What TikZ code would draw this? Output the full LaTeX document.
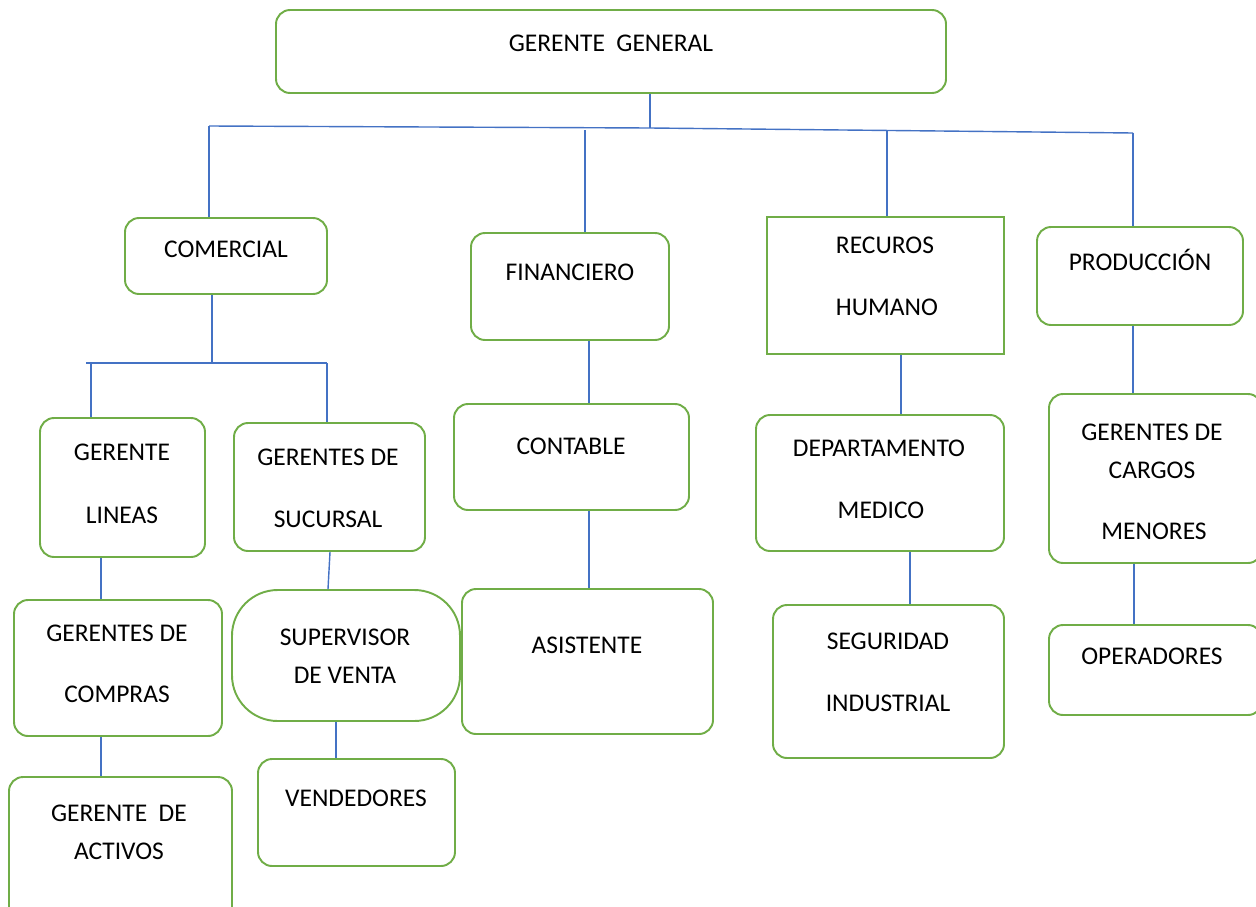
\documentclass[tikz,border=0pt]{standalone}
\usepackage{fontspec}
\setmainfont{Carlito}
\usetikzlibrary{fit}
\definecolor{cajaverde}{RGB}{112,173,71}
\definecolor{lineaazul}{RGB}{68,114,196}

\begin{document}
\begin{tikzpicture}[
    x=0.02cm, y=-0.02cm,
    caja/.style={rectangle, draw=cajaverde, line width=1.1pt, rounded corners=8pt, inner sep=0pt},
    cajarecta/.style={rectangle, draw=cajaverde, line width=1.1pt, inner sep=0pt},
    txt/.style={inner sep=0pt, font=\fontsize{14.5}{17}\selectfont, text=black},
    enlace/.style={draw=lineaazul, line width=0.8pt}
   ]
   \useasboundingbox (0,0) rectangle (1256,906);

   % cajas
   \node[caja, fit={(276,10) (946,93)}] (general) {};
   \node[caja, fit={(125,218) (327,294)}] (comercial) {};
   \node[caja, fit={(471,233) (669,340)}] (financiero) {};
   \node[cajarecta, fit={(767,217) (1004,354)}] (rrhh) {};
   \node[caja, fit={(1037,227) (1243,325)}] (produccion) {};
   \node[caja, fit={(40,418) (205,557)}] (lineas) {};
   \node[caja, fit={(234,423) (425,551)}] (sucursal) {};
   \node[caja, fit={(14,600) (222,736)}] (compras) {};
   \node[caja, fit={(9,777) (232,930)}] (activos) {};
   \node[caja, rounded corners=26pt, fit={(232,590) (460,721)}] (supervisor) {};
   \node[caja, fit={(258,759) (455,866)}] (vendedores) {};
   \node[caja, fit={(454,404) (689,510)}] (contable) {};
   \node[caja, fit={(462,589) (713,734)}] (asistente) {};
   \node[caja, fit={(756,415) (1004,551)}] (medico) {};
   \node[caja, fit={(773,605) (1004,758)}] (seguridad) {};
   \node[caja, fit={(1049,394) (1262,563)}] (cargos) {};
   \node[caja, fit={(1049,625) (1262,715)}] (operadores) {};

   % textos
   \node[txt] (generalT) at (611,43) {GERENTE\ \ GENERAL};
   \node[txt] (comercialT) at (226,249) {COMERCIAL};
   \node[txt] (financieroT) at (570,272) {FINANCIERO};
   \node[txt] (rrhhT1) at (885,245) {RECUROS};
   \node[txt] (rrhhT2) at (887,307) {HUMANO};
   \node[txt] (produccionT) at (1140,260) {PRODUCCIÓN};
   \node[txt] (lineasT1) at (122,452) {GERENTE};
   \node[txt] (lineasT2) at (122,515) {LINEAS};
   \node[txt] (sucursalT1) at (328,457) {GERENTES DE};
   \node[txt] (sucursalT2) at (328,519) {SUCURSAL};
   \node[txt] (comprasT1) at (117,633) {GERENTES DE};
   \node[txt] (comprasT2) at (117,694) {COMPRAS};
   \node[txt] (activosT1) at (119,813) {GERENTE\ \ DE};
   \node[txt] (activosT2) at (119,851) {ACTIVOS};
   \node[txt] (supervisorT1) at (345,637) {SUPERVISOR};
   \node[txt] (supervisorT2) at (345,675) {DE VENTA};
   \node[txt] (vendedoresT) at (356,798) {VENDEDORES};
   \node[txt] (contableT) at (571,446) {CONTABLE};
   \node[txt] (asistenteT) at (587,645) {ASISTENTE};
   \node[txt] (medicoT1) at (879,448) {DEPARTAMENTO};
   \node[txt] (medicoT2) at (881,510) {MEDICO};
   \node[txt] (seguridadT1) at (888,641) {SEGURIDAD};
   \node[txt] (seguridadT2) at (888,703) {INDUSTRIAL};
   \node[txt] (cargosT1) at (1152,432) {GERENTES DE};
   \node[txt] (cargosT2) at (1152,470) {CARGOS};
   \node[txt] (cargosT3) at (1154,531) {MENORES};
   \node[txt] (operadoresT) at (1152,656) {OPERADORES};

   % barras
   \coordinate (busIzq) at (209,126);
   \coordinate (busGen) at (650,128);
   \coordinate (busFin) at (585,130);
   \coordinate (busRH) at (887,131);
   \coordinate (busDer) at (1133,133);
   \coordinate (comBus) at (212,363);
   \coordinate (comIzq) at (86,363);
   \coordinate (comLin) at (91,363);
   \coordinate (comSuc) at (327,363);

   \draw[enlace] (busIzq) -- (busGen) -- (busDer);
   \draw[enlace] (busGen |- general.south) -- (busGen);
   \draw[enlace] (busIzq) -- (busIzq |- comercial.north);
   \draw[enlace] (busFin) -- (busFin |- financiero.north);
   \draw[enlace] (busRH) -- (busRH |- rrhh.north);
   \draw[enlace] (busDer) -- (busDer |- produccion.north);

   \draw[enlace] (comBus |- comercial.south) -- (comBus);
   \draw[enlace] (comIzq) -- (comSuc);
   \draw[enlace] (comLin) -- (comLin |- lineas.north);
   \draw[enlace] (comSuc) -- (comSuc |- sucursal.north);

   \draw[enlace] (lineas.south -| 101,0) -- (compras.north -| 101,0);
   \draw[enlace] (compras.south -| 101,0) -- (activos.north -| 101,0);
   \draw[enlace] (sucursal.south -| 330,0) -- (supervisor.north -| 328,0);
   \draw[enlace] (supervisor.south -| 336,0) -- (vendedores.north -| 336,0);
   \draw[enlace] (financiero.south -| 589,0) -- (contable.north -| 589,0);
   \draw[enlace] (contable.south -| 589,0) -- (asistente.north -| 589,0);
   \draw[enlace] (rrhh.south -| 901,0) -- (medico.north -| 901,0);
   \draw[enlace] (medico.south -| 910,0) -- (seguridad.north -| 910,0);
   \draw[enlace] (produccion.south -| 1133,0) -- (cargos.north -| 1133,0);
   \draw[enlace] (cargos.south -| 1134,0) -- (operadores.north -| 1134,0);
 \end{tikzpicture}
\end{document}
